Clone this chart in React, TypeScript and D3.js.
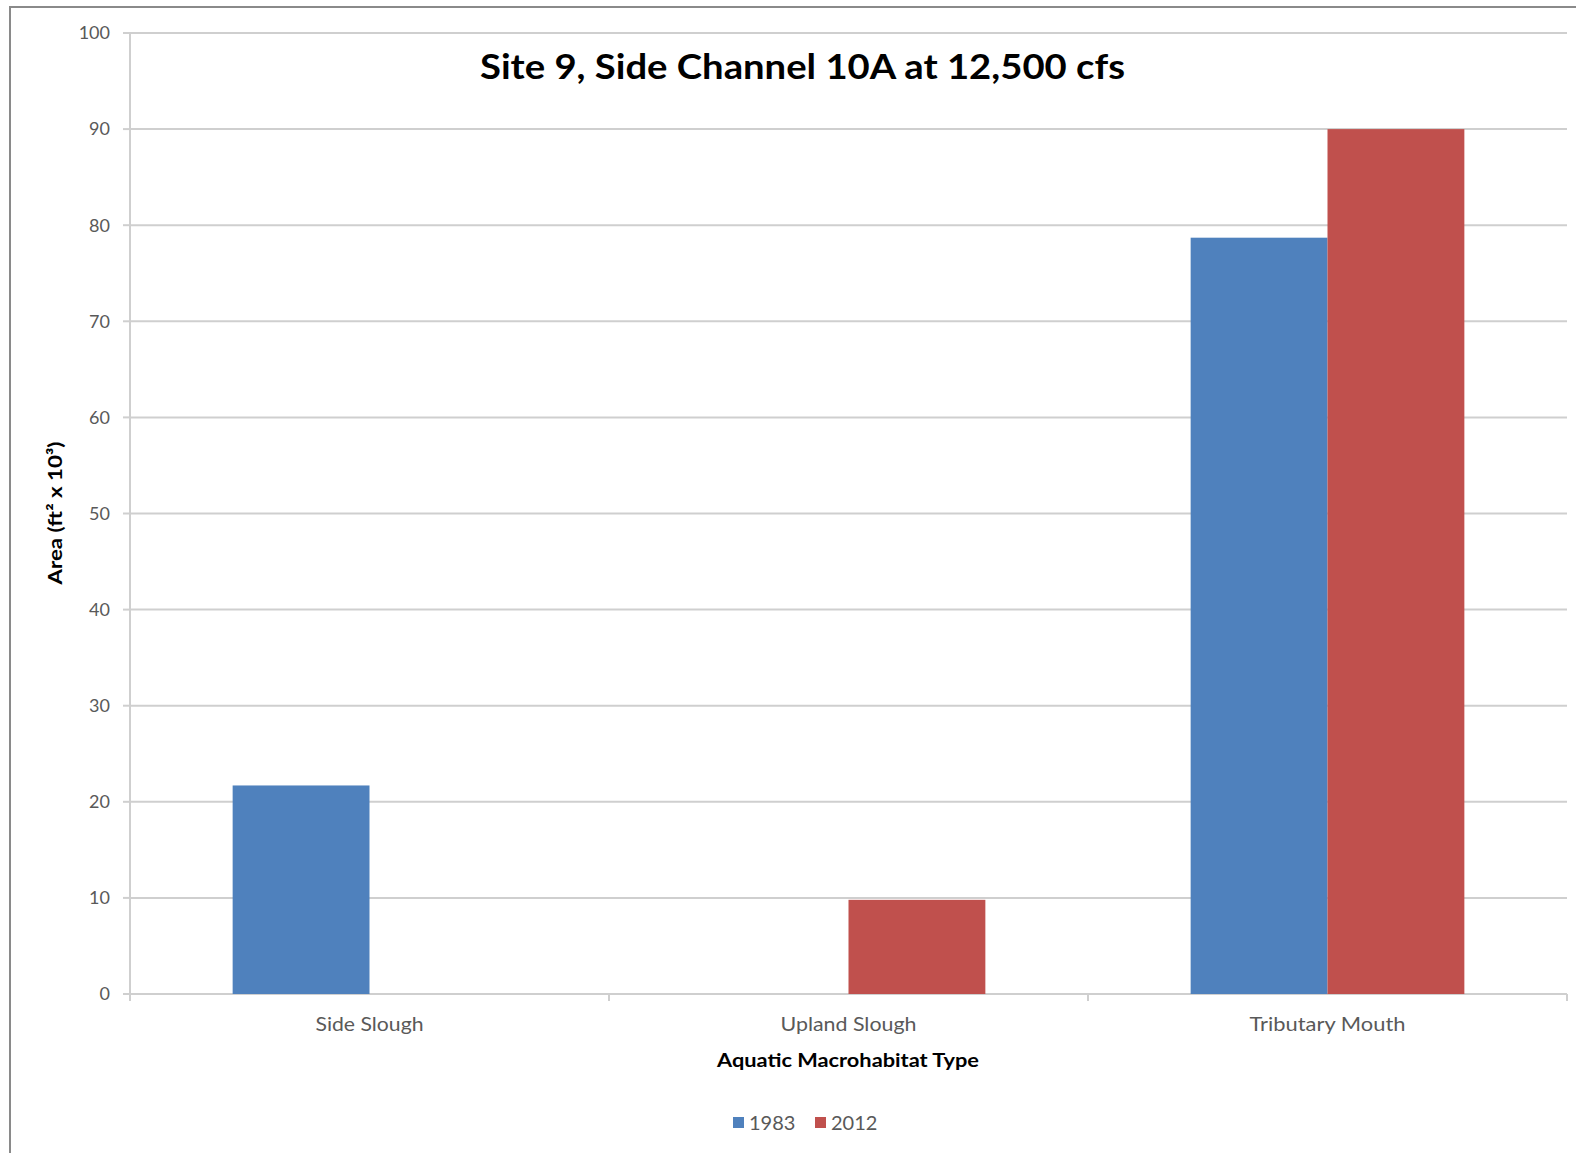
import React from "react";
import * as d3 from "d3";

const categories = ["Side Slough", "Upland Slough", "Tributary Mouth"];
const categoryLabelWidths = [108, 136, 156];
const seriesNames = ["1983", "2012"];
const values1983 = [21.7, 0, 78.7];
const values2012 = [0, 9.8, 90];
const yTicks = [0, 10, 20, 30, 40, 50, 60, 70, 80, 90, 100];
const seriesColors = ["#4F81BD", "#C0504D"];

const W = 1576;
const H = 1153;
const left = 130;
const right = 1567;
const top = 33;
const bottom = 994;
const FONT = "Lato, 'Open Sans', sans-serif";

export default function App() {
  const x0 = d3.scaleBand<string>().domain(categories).range([left, right]).paddingInner(0).paddingOuter(0);
  const x1 = d3.scaleBand<string>().domain(seriesNames).range([0, x0.bandwidth()]).paddingInner(0).paddingOuter(0.75);
  const y = d3.scaleLinear().domain([0, 100]).range([bottom, top]);
  const seriesVals = [values1983, values2012];
  const boundaries = [...categories.map((c) => x0(c) as number), right];

  return (
    <svg width={W} height={H} style={{ position: "absolute", left: 0, top: 0 }}>
      <rect x={0} y={0} width={W} height={H} fill="#fff" />
      <rect x={10} y={7} width={W + 20} height={H + 20} fill="none" stroke="#8a8a8a" strokeWidth={2} />
      {yTicks.map((t) => (
        <line key={"g" + t} x1={left} x2={right} y1={y(t)} y2={y(t)} stroke="#cfcfcf" strokeWidth={2} />
      ))}
      <line x1={left} x2={left} y1={top} y2={bottom + 7} stroke="#cfcfcf" strokeWidth={2} />
      {yTicks.map((t) => (
        <line key={"t" + t} x1={left - 7} x2={left} y1={y(t)} y2={y(t)} stroke="#cfcfcf" strokeWidth={2} />
      ))}
      {boundaries.map((b, i) => (
        <line key={"xb" + i} x1={b} x2={b} y1={bottom} y2={bottom + 7} stroke="#cfcfcf" strokeWidth={2} />
      ))}
      {yTicks.map((t) => (
        <text key={"l" + t} x={110} y={y(t)} dy="0.35em" textAnchor="end" fontFamily={FONT} fontSize={18} fill="#595959">
          {t}
        </text>
      ))}
      {seriesVals.map((vals, si) =>
        categories.map((c, ci) =>
          vals[ci] > 0 ? (
            <rect
              key={si + "-" + ci}
              x={(x0(c) as number) + (x1(seriesNames[si]) as number)}
              width={x1.bandwidth()}
              y={y(vals[ci])}
              height={y(0) - y(vals[ci])}
              fill={seriesColors[si]}
            />
          ) : null
        )
      )}
      {categories.map((c, i) => (
        <text key={"c" + c} x={(x0(c) as number) + x0.bandwidth() / 2} y={1024} dy="0.35em" textAnchor="middle" fontFamily={FONT} fontSize={20} fill="#595959" textLength={categoryLabelWidths[i]} lengthAdjust="spacingAndGlyphs">
          {c}
        </text>
      ))}
      <text x={802.5} y={66.5} dy="0.35em" textAnchor="middle" fontFamily={FONT} fontWeight="bold" fontSize={35} fill="#000" textLength={645} lengthAdjust="spacingAndGlyphs">
        Site 9, Side Channel 10A at 12,500 cfs
      </text>
      <text x={848} y={1060} dy="0.35em" textAnchor="middle" fontFamily={FONT} fontWeight="bold" fontSize={19} fill="#000" textLength={262} lengthAdjust="spacingAndGlyphs">
        Aquatic Macrohabitat Type
      </text>
      <text transform={`translate(55,513) rotate(-90)`} dy="0.35em" textAnchor="middle" fontFamily={FONT} fontWeight="bold" fontSize={19} fill="#000" textLength={143} lengthAdjust="spacingAndGlyphs">
        Area (ft² x 10³)
      </text>
      {seriesNames.map((s, i) => (
        <g key={"lg" + s} transform={`translate(${733 + i * 82},1117)`}>
          <rect x={0} y={0} width={11} height={11} fill={seriesColors[i]} />
          <text x={16} y={6} dy="0.35em" fontFamily={FONT} fontSize={20} fill="#595959">
            {s}
          </text>
        </g>
      ))}
    </svg>
  );
}
